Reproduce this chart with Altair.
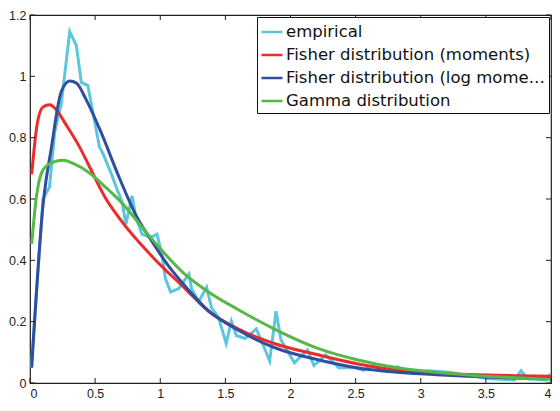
import altair as alt
import pandas as pd

SERIES = ["empirical", "Fisher distribution (moments)",
          "Fisher distribution (log moments)", "Gamma distribution"]
COLORS = ["#5CC6DE", "#EC2B2B", "#2F4E9F", "#55B848"]

XTICKS = [0, 0.5, 1, 1.5, 2, 2.5, 3, 3.5, 4]
YTICKS = [0, 0.2, 0.4, 0.6, 0.8, 1.0, 1.2]

emp_x = [0.01, 0.10, 0.15, 0.19, 0.24, 0.305, 0.356, 0.394, 0.444, 0.533, 0.558,
         0.622, 0.67, 0.708, 0.736, 0.784, 0.813, 0.86, 0.927, 0.975, 1.013, 1.04,
         1.08, 1.142, 1.22, 1.24, 1.295, 1.356, 1.394, 1.447, 1.506, 1.546, 1.584,
         1.65, 1.737, 1.79, 1.84, 1.889, 1.927, 2.03, 2.13, 2.18, 2.27, 2.37, 2.49,
         2.56, 2.63, 2.70, 2.82, 2.945, 3.05, 3.22, 3.35, 3.53, 3.72, 3.77, 3.82,
         3.96, 4.0]
emp_y = [0.05, 0.60, 0.64, 0.82, 0.91, 1.146, 1.10, 0.98, 0.97, 0.77, 0.75,
         0.685, 0.63, 0.59, 0.517, 0.61, 0.54, 0.485, 0.475, 0.485, 0.42, 0.34,
         0.297, 0.308, 0.355, 0.308, 0.265, 0.312, 0.245, 0.214, 0.129, 0.202, 0.155,
         0.145, 0.176, 0.124, 0.072, 0.234, 0.14, 0.066, 0.108, 0.057, 0.092, 0.05, 0.05,
         0.041, 0.057, 0.041, 0.053, 0.03, 0.04, 0.035, 0.025, 0.014, 0.01, 0.04, 0.014,
         0.01, 0.03]

fm_x = [0.013, 0.056, 0.10, 0.152, 0.203, 0.28, 0.38, 0.457, 0.584, 0.685, 0.939,
        1.193, 1.37, 1.60, 1.88, 2.21, 2.51, 2.82, 3.12, 3.43, 3.73, 4.0]
fm_y = [0.68, 0.847, 0.90, 0.907, 0.89, 0.84, 0.77, 0.705, 0.60, 0.538, 0.412,
        0.307, 0.234, 0.176, 0.128, 0.092, 0.063, 0.042, 0.032, 0.027, 0.024, 0.022]

fl_x = [0.013, 0.10, 0.165, 0.24, 0.305, 0.356, 0.43, 0.533, 0.685, 0.81, 0.939,
        1.066, 1.193, 1.37, 1.60, 1.88, 2.21, 2.51, 2.82, 3.12, 3.43, 3.73, 4.0]
fl_y = [0.05, 0.58, 0.77, 0.95, 0.985, 0.978, 0.925, 0.83, 0.67, 0.55, 0.46,
        0.38, 0.315, 0.236, 0.172, 0.115, 0.076, 0.05, 0.035, 0.027, 0.021, 0.016, 0.014]

gm_x = [0.013, 0.05, 0.10, 0.178, 0.254, 0.33, 0.457, 0.584, 0.71, 0.914, 0.99,
        1.19, 1.37, 1.60, 1.88, 2.21, 2.51, 2.82, 3.12, 3.43, 3.73, 4.0]
gm_y = [0.454, 0.61, 0.695, 0.72, 0.726, 0.716, 0.685, 0.637, 0.585, 0.48, 0.443,
        0.354, 0.297, 0.239, 0.175, 0.113, 0.076, 0.05, 0.035, 0.024, 0.017, 0.012]

W, H = 521, 368
FRAME = "#1e1e1e"

def frame(name, xs, ys):
    return pd.DataFrame({"x": xs, "y": ys, "series": name})

xscale = alt.Scale(domain=[0, 4], nice=False, zero=False)
yscale = alt.Scale(domain=[0, 1.2], nice=False)
cscale = alt.Scale(domain=SERIES, range=COLORS)

xaxis = alt.Axis(values=XTICKS, format="~g", title=None, grid=False, domain=False,
                 ticks=False, labelPadding=4, labelFont="Liberation Sans",
                 labelFontSize=12.5, labelColor="#222")
yaxis = alt.Axis(values=YTICKS, format="~g", title=None, grid=False, domain=False,
                 ticks=False, labelPadding=4, labelFont="Liberation Sans",
                 labelFontSize=12.5, labelColor="#222")

legend = alt.Legend(title=None, orient="none", legendX=227, legendY=2,
                    symbolType="stroke", symbolSize=441, symbolStrokeWidth=2.5,
                    labelFont="DejaVu Sans", labelFontSize=16.5, labelColor="#111",
                    labelLimit=265, labelOffset=2, padding=3, rowPadding=2,
                    strokeColor="#111", fillColor="white")

def line_layer(df, interp):
    return alt.Chart(df).mark_line(strokeWidth=3, interpolate=interp, clip=True).encode(
        x=alt.X("x:Q", scale=xscale, axis=xaxis),
        y=alt.Y("y:Q", scale=yscale, axis=yaxis),
        color=alt.Color("series:N", scale=cscale, legend=legend),
    )

emp = line_layer(frame(SERIES[0], emp_x, emp_y), "linear")
fm = line_layer(frame(SERIES[1], fm_x, fm_y), "monotone")
fl = line_layer(frame(SERIES[2], fl_x, fl_y), "monotone")
gm = line_layer(frame(SERIES[3], gm_x, gm_y), "monotone")

xt = pd.DataFrame({"x": XTICKS})
yt = pd.DataFrame({"y": YTICKS})
tick_b = alt.Chart(xt).mark_rule(color=FRAME, strokeWidth=1).encode(
    x=alt.X("x:Q", scale=xscale, axis=xaxis), y=alt.value(H), y2=alt.value(H - 5))
tick_t = alt.Chart(xt).mark_rule(color=FRAME, strokeWidth=1).encode(
    x=alt.X("x:Q", scale=xscale, axis=xaxis), y=alt.value(0), y2=alt.value(5))
tick_l = alt.Chart(yt).mark_rule(color=FRAME, strokeWidth=1).encode(
    y=alt.Y("y:Q", scale=yscale, axis=yaxis), x=alt.value(0), x2=alt.value(5))
tick_r = alt.Chart(yt).mark_rule(color=FRAME, strokeWidth=1).encode(
    y=alt.Y("y:Q", scale=yscale, axis=yaxis), x=alt.value(W), x2=alt.value(W - 5))

chart = alt.layer(emp, fm, fl, gm, tick_b, tick_t, tick_l, tick_r).properties(
    width=W, height=H,
    padding={"left": 22, "top": 7, "right": 1, "bottom": 20},
    autosize=alt.AutoSizeParams(type="none"),
    background="white",
).configure_view(stroke=FRAME, strokeWidth=1.2)

chart.save("out.html", embed_options={"renderer": "svg", "actions": False})
